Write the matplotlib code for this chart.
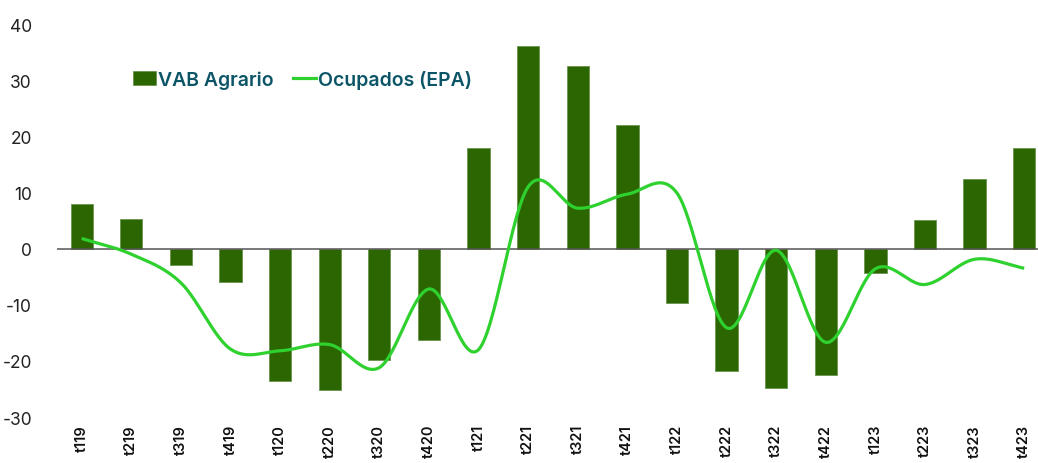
import numpy as np
import matplotlib
matplotlib.use("Agg")
import matplotlib.pyplot as plt
from matplotlib.patches import Patch
from matplotlib.lines import Line2D

plt.rcParams['font.family'] = ['Inter', 'DejaVu Sans']
plt.rcParams['axes.unicode_minus'] = False

# Trimestres
labels = ["t119", "t219", "t319", "t419", "t120", "t220", "t320", "t420",
          "t121", "t221", "t321", "t421", "t122", "t222", "t322", "t422",
          "t123", "t223", "t323", "t423"]

# VAB Agrario (% variacion)
vab = [8.0, 5.3, -3.0, -5.9, -23.6, -25.1, -19.9, -16.3,
       18.0, 36.1, 32.6, 22.1, -9.7, -21.8, -24.8, -22.5,
       -4.3, 5.1, 12.4, 17.9]

# Ocupados (EPA)
epa = [1.8, -1.0, -6.1, -17.9, -18.2, -17.1, -21.2, -7.2,
       -18.0, 11.0, 7.2, 9.7, 9.9, -14.1, -0.3, -16.7,
       -3.6, -6.4, -1.9, -3.5]

bar_color = '#2b6600'
line_color = '#2fd12f'
legend_color = '#0b5567'


def smooth(y, n=30):
    # Hermite cubico (tipo Catmull-Rom) como la linea suavizada de Excel
    y = np.asarray(y, dtype=float)
    m = np.zeros_like(y)
    m[1:-1] = (y[2:] - y[:-2]) / 2
    m[0] = y[1] - y[0]
    m[-1] = y[-1] - y[-2]
    xs, ys = [], []
    for i in range(len(y) - 1):
        t = np.linspace(0, 1, n, endpoint=False)
        h00 = 2 * t**3 - 3 * t**2 + 1
        h10 = t**3 - 2 * t**2 + t
        h01 = -2 * t**3 + 3 * t**2
        h11 = t**3 - t**2
        xs.append(i + t)
        ys.append(h00 * y[i] + h10 * m[i] + h01 * y[i + 1] + h11 * m[i + 1])
    xs.append([len(y) - 1])
    ys.append([y[-1]])
    return np.concatenate(xs), np.concatenate(ys)


fig = plt.figure(figsize=(10.38, 4.64), dpi=100)
ax = fig.add_axes([0.0548, 0.0991, 0.9558, 0.8470])

x = np.arange(len(labels))
ax.bar(x, vab, width=0.45, color=bar_color, edgecolor='#6a9450', linewidth=0.6, zorder=2)
ax.axhline(0, color='#555555', linewidth=1.1, zorder=3)
sx, sy = smooth(epa)
ax.plot(sx, sy, color=line_color, linewidth=2.3, zorder=4, solid_capstyle='butt')

ax.set_xlim(-0.5, len(labels) - 0.5)
ax.set_ylim(-30, 40)
ax.set_yticks(range(-30, 41, 10))
ax.tick_params(axis='y', length=0, pad=18, labelsize=12.5, labelcolor='#222222')
ax.set_xticks(x)
ax.set_xticklabels(labels, rotation=90, fontsize=10.5, fontweight='semibold', color='#111111')
ax.tick_params(axis='x', length=0, pad=5)
for s in ax.spines.values():
    s.set_visible(False)

handles = [Patch(facecolor=bar_color, edgecolor='#6a9450', linewidth=0.6),
           Line2D([0], [0], color=line_color, linewidth=2.3)]
leg = fig.legend(handles, ["VAB Agrario", "Ocupados (EPA)"], ncol=2, frameon=False,
                 loc='center left', bbox_to_anchor=(115 / 1038, 1 - 80 / 464),
                 prop={'size': 14, 'weight': 'semibold'},
                 handlelength=1.2, handletextpad=0.1, columnspacing=1.0)
for t in leg.get_texts():
    t.set_color(legend_color)

fig.savefig('out.png', dpi=100)
